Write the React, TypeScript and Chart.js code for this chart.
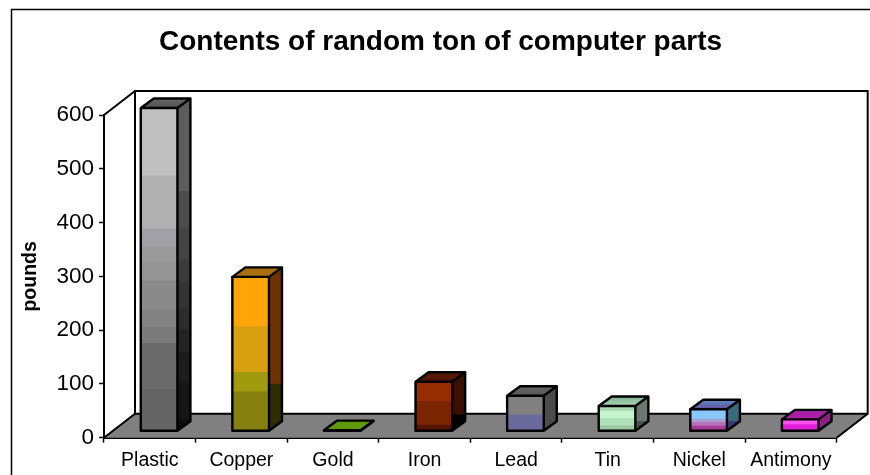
import React, { useEffect, useRef } from "react";
import { Chart, registerables } from "chart.js";

Chart.register(...registerables);

const categories = ["Plastic", "Copper", "Gold", "Iron", "Lead", "Tin", "Nickel", "Antimony"];
const totals = [600, 286, 1, 91, 65, 46, 40, 21];

// Front-face colour bands, bottom to top (pounds).
const plasticBands = [76, 86, 30, 32, 54, 34, 30, 33, 98, 127];
const plasticColors = ["#646464", "#6a6a6a", "#7b7b7b", "#828282", "#8a8a8a", "#949494", "#9a9a9a", "#a0a0a6", "#b0b0b0", "#c0c0c0"];
const copperBands = [72, 36, 85, 93];
const copperColors = ["#847f0e", "#a09a0e", "#d8a010", "#ffa50a"];
const goldBands = [1];
const goldColors = ["#5f9a0a"];
const ironBands = [10, 44, 37];
const ironColors = ["#551500", "#7b2400", "#952e00"];
const leadBands = [29, 36];
const leadColors = ["#6a6a9c", "#808080"];
const tinBands = [9, 13, 14, 10];
const tinColors = ["#9cc8a4", "#b0e0b8", "#c6f4ce", "#a8d8b0"];
const nickelBands = [8, 7, 6, 19];
const nickelColors = ["#a83a9a", "#b870b8", "#a8a0d0", "#88c8ff"];
const antimonyBands = [11, 10];
const antimonyColors = ["#e020d8", "#ff50f0"];

const frontBands = [plasticBands, copperBands, goldBands, ironBands, leadBands, tinBands, nickelBands, antimonyBands];
const frontColors = [plasticColors, copperColors, goldColors, ironColors, leadColors, tinColors, nickelColors, antimonyColors];

// Side-face colour bands, bottom to top (pounds).
const sideBands = [
  [23, 68, 56, 43, 40, 50, 40, 59, 68, 153],
  [89, 197],
  [1],
  [32, 59],
  [65],
  [20, 26],
  [20, 20],
  [21],
];
const sideColors = [
  ["#0d0d0d", "#151515", "#1c1c1c", "#232323", "#2c2c2c", "#333333", "#3b3b3b", "#444444", "#4d4d4d", "#5c5c5c"],
  ["#2e2c00", "#6e3300"],
  ["#4a7a08"],
  ["#000000", "#3a0e00"],
  ["#4c4c4c"],
  ["#505050", "#6a7a70"],
  ["#3a3a78", "#3a6a7a"],
  ["#8a2080"],
];
// Top-face colours: near edge, far edge.
const topFront = ["#505050", "#aa720e", "#5f9a0a", "#4d1400", "#555555", "#a8d8b0", "#6a4a9a", "#b020a8"];
const topBack = ["#6a6a6a", "#a86c10", "#5f9a0a", "#5a1a00", "#666666", "#80b090", "#5a90c8", "#a020a0"];

const yTicks = [0, 100, 200, 300, 400, 500, 600];

const DEPTH_X = 31;
const DEPTH_Y = 24;
const BAR_DX = 13;
const BAR_DY = 9.5;
const SHIFT_X = 9.3;
const SHIFT_Y = 7;
const FONT = "'Liberation Sans', Arial";

const bandCount = Math.max(...frontBands.map((b) => b.length));
const datasets = Array.from({ length: bandCount }, (_, i) => ({
  label: "band " + i,
  data: frontBands.map((b) => b[i] ?? 0),
  backgroundColor: frontColors.map((c) => c[i] ?? "#000000"),
  borderWidth: 0,
  inflateAmount: 0.6,
  clip: false as const,
  barPercentage: 0.4,
  categoryPercentage: 1,
  stack: "s",
  yAxisID: "y",
}));

const scene = {
  id: "scene3d",
  beforeDatasetsDraw(chart: any) {
    const { ctx, chartArea: a } = chart;
    ctx.save();
    // Outer frame
    ctx.strokeStyle = "#000";
    ctx.lineWidth = 1.5;
    ctx.beginPath();
    ctx.moveTo(11.5, 475);
    ctx.lineTo(11.5, 9.5);
    ctx.lineTo(870, 9.5);
    ctx.stroke();
    // Floor
    ctx.fillStyle = "#808080";
    ctx.beginPath();
    ctx.moveTo(a.left, a.bottom);
    ctx.lineTo(a.left + DEPTH_X, a.bottom - DEPTH_Y);
    ctx.lineTo(a.right + DEPTH_X, a.bottom - DEPTH_Y);
    ctx.lineTo(a.right, a.bottom);
    ctx.closePath();
    ctx.fill();
    // Walls
    ctx.lineWidth = 2;
    ctx.beginPath();
    ctx.moveTo(a.left, a.bottom);
    ctx.lineTo(a.left + DEPTH_X, a.bottom - DEPTH_Y);
    ctx.lineTo(a.right + DEPTH_X, a.bottom - DEPTH_Y);
    ctx.moveTo(a.left + DEPTH_X, a.bottom - DEPTH_Y);
    ctx.lineTo(a.left + DEPTH_X, a.top - DEPTH_Y);
    ctx.lineTo(a.right + DEPTH_X, a.top - DEPTH_Y);
    ctx.lineTo(a.right + DEPTH_X, a.bottom - DEPTH_Y);
    ctx.lineTo(a.right, a.bottom);
    ctx.moveTo(a.left, a.top);
    ctx.lineTo(a.left + DEPTH_X, a.top - DEPTH_Y);
    ctx.stroke();
    ctx.restore();
    ctx.save();
    ctx.translate(SHIFT_X, -SHIFT_Y);
  },
  afterDatasetsDraw(chart: any) {
    const { ctx } = chart;
    const y = chart.scales.y;
    const first = chart.getDatasetMeta(0).data;
    ctx.lineJoin = "round";
    totals.forEach((total, i) => {
      const bar = first[i].getProps(["x", "width"], true);
      const l = bar.x - bar.width / 2;
      const r = bar.x + bar.width / 2;
      const base = y.getPixelForValue(0);
      const t = y.getPixelForValue(total);
      // Side face
      ctx.save();
      ctx.beginPath();
      ctx.moveTo(r, base);
      ctx.lineTo(r + BAR_DX, base - BAR_DY);
      ctx.lineTo(r + BAR_DX, t - BAR_DY);
      ctx.lineTo(r, t);
      ctx.closePath();
      ctx.clip();
      let acc = 0;
      sideBands[i].forEach((h, j) => {
        const y0 = y.getPixelForValue(acc);
        const y1 = y.getPixelForValue(acc + h);
        acc += h;
        ctx.fillStyle = sideColors[i][j];
        ctx.fillRect(r - 1, y1 - BAR_DY - 1, BAR_DX + 2, y0 - y1 + BAR_DY + 2);
      });
      ctx.restore();
      // Top face
      const g = ctx.createLinearGradient(0, t, 0, t - BAR_DY);
      g.addColorStop(0, topFront[i]);
      g.addColorStop(1, topBack[i]);
      ctx.fillStyle = g;
      ctx.beginPath();
      ctx.moveTo(l, t);
      ctx.lineTo(l + BAR_DX, t - BAR_DY);
      ctx.lineTo(r + BAR_DX, t - BAR_DY);
      ctx.lineTo(r, t);
      ctx.closePath();
      ctx.fill();
      // Outlines
      ctx.strokeStyle = "#000";
      ctx.lineWidth = 2.4;
      ctx.beginPath();
      ctx.rect(l, t, r - l, base - t);
      ctx.moveTo(l, t);
      ctx.lineTo(l + BAR_DX, t - BAR_DY);
      ctx.lineTo(r + BAR_DX, t - BAR_DY);
      ctx.lineTo(r, t);
      ctx.moveTo(r + BAR_DX, t - BAR_DY);
      ctx.lineTo(r + BAR_DX, base - BAR_DY);
      ctx.lineTo(r, base);
      ctx.stroke();
    });
    ctx.restore();
  },
};

export default function App() {
  const ref = useRef<HTMLCanvasElement>(null);
  useEffect(() => {
    const chart = new Chart(ref.current as HTMLCanvasElement, {
      type: "bar",
      data: { labels: categories, datasets: datasets as any },
      plugins: [scene],
      options: {
        animation: false,
        responsive: false,
        devicePixelRatio: 1,
        layout: { padding: { left: 11, top: 9, right: 0, bottom: 0 }, autoPadding: false },
        plugins: {
          legend: { display: false },
          tooltip: { enabled: false },
          title: {
            display: true,
            text: "Contents of random ton of computer parts",
            color: "#000",
            font: { family: FONT, size: 28, weight: "bold", lineHeight: 1.2 },
            padding: { top: 16, bottom: 56.4 },
          },
        },
        scales: {
          x: {
            stacked: true,
            grid: { color: "#000", drawOnChartArea: false, tickLength: 5, tickWidth: 1.5, offset: true },
            border: { color: "#000", width: 2 },
            ticks: {
              color: "#000",
              maxRotation: 0,
              autoSkip: false,
              padding: 6,
              font: { family: FONT, size: 19.5 },
            },
            afterFit: (s: any) => {
              s.height = 37.3;
            },
          },
          y: {
            stacked: true,
            min: 0,
            max: 600,
            afterBuildTicks: (s: any) => {
              s.ticks = yTicks.map((value) => ({ value }));
            },
            grid: { color: "#000", drawOnChartArea: false, tickLength: 5, tickWidth: 1.5 },
            border: { color: "#000", width: 2 },
            ticks: {
              color: "#000",
              padding: 5,
              font: { family: FONT, size: 22.5 },
            },
            title: {
              display: true,
              text: "pounds",
              color: "#000",
              font: { family: FONT, size: 19.5, weight: "bold", lineHeight: 1.2 },
              padding: { top: 8, bottom: 0 },
            },
            afterFit: (s: any) => {
              s.width = 93;
            },
          },
          y2: {
            position: "right",
            display: true,
            grid: { display: false },
            border: { display: false },
            ticks: { display: false },
            afterFit: (s: any) => {
              s.width = 33.3;
            },
          },
        },
      } as any,
    });
    return () => chart.destroy();
  }, []);
  return (
    <canvas
      ref={ref}
      width={870}
      height={475}
      style={{ position: "absolute", left: 0, top: 0, width: 870, height: 475, display: "block" }}
    />
  );
}
